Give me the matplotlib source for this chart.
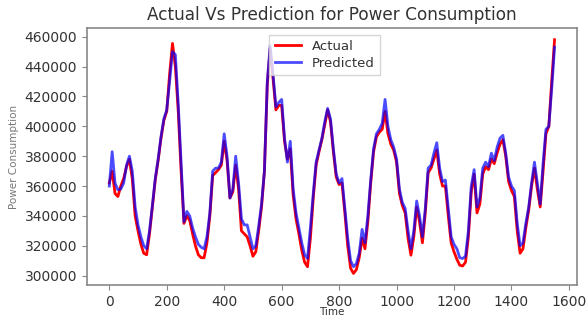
import numpy as np
import matplotlib
matplotlib.use("Agg")
import matplotlib.pyplot as plt

# Sampling step of the series (time units)
step = 10

actual = [
    362000, 370000, 355000, 353000, 360000, 365000, 373000, 378000, 365000, 340000,
    330000, 321000, 315000, 314000, 328000, 346000, 364000, 377000, 392000, 404000,
    410000, 435000, 455500, 440000, 410000, 370000, 335000, 340000, 337000, 328000,
    320000, 314000, 312000, 312000, 322000, 340000, 367000, 369000, 371000, 374000,
    390000, 377000, 352000, 356000, 374000, 358000, 330000, 328000, 326000, 320000,
    313000, 316000, 330000, 346000, 370000, 428000, 452000, 432000, 411000, 414000,
    414000, 390000, 378000, 385000, 354000, 338000, 328000, 317000, 309000, 306000,
    325000, 352000, 374000, 383000, 391000, 401000, 411000, 403000, 383000, 366000,
    361000, 362000, 342000, 320000, 305000, 301500, 304000, 312000, 325000, 318000,
    336000, 362000, 383000, 393000, 396000, 398000, 410000, 395000, 388000, 384000,
    376000, 355000, 347000, 342000, 325000, 313700, 326000, 346000, 336000, 322000,
    342000, 369000, 372000, 378000, 384000, 368000, 360000, 360000, 340000, 322000,
    316000, 311000, 307000, 306500, 309000, 326000, 356000, 368000, 342000, 348000,
    368000, 373000, 371000, 378000, 375000, 382000, 388000, 391000, 380000, 363000,
    357000, 353000, 330000, 315000, 318000, 332000, 344000, 360000, 372000, 358000,
    346000, 370000, 395000, 400000, 430000, 458000,
]

predicted = [
    360000, 383000, 362000, 357500, 358000, 362000, 374000, 380000, 370000, 346000,
    334000, 326000, 320000, 318000, 330000, 347000, 365000, 378000, 393000, 405000,
    411000, 430000, 450000, 448000, 415000, 375000, 336000, 343000, 340000, 332000,
    326000, 321000, 319000, 318000, 326000, 342000, 370000, 372000, 372000, 376000,
    395000, 380000, 352000, 358000, 380000, 362000, 338000, 334000, 334000, 326000,
    318000, 320000, 333000, 348000, 370000, 430000, 454000, 435000, 413000, 416000,
    418000, 392000, 376000, 390000, 358000, 342000, 332000, 322000, 314000, 311500,
    332000, 355000, 376000, 384000, 392000, 403000, 412000, 405000, 385000, 368000,
    362000, 365000, 345000, 325000, 310000, 306000, 308000, 315000, 331000, 322000,
    340000, 364000, 385000, 395000, 398000, 402000, 418000, 400000, 391000, 386000,
    378000, 358000, 349000, 345000, 330000, 318000, 330000, 350000, 340000, 326000,
    345000, 372000, 374000, 382000, 389000, 372000, 363000, 364000, 345000, 326000,
    321000, 318000, 312000, 311500, 313000, 330000, 360000, 371000, 346000, 352000,
    372000, 376000, 373000, 382000, 377000, 386000, 392000, 394000, 382000, 366000,
    360000, 357000, 335000, 320000, 322000, 335000, 346000, 362000, 376000, 362000,
    348000, 375000, 398000, 400000, 425000, 453000,
]

time = np.arange(len(actual)) * step

fig = plt.figure(figsize=(5.88, 3.2), dpi=100)
ax = fig.add_axes([0.148, 0.109, 0.833, 0.8035])

ax.plot(time, actual, color="red", lw=2.0, label="Actual")
ax.plot(time, predicted, color="blue", lw=2.0, alpha=0.7, label="Predicted")

ax.set_xticks([0, 200, 400, 600, 800, 1000, 1200, 1400, 1600])
ax.set_yticks([300000, 320000, 340000, 360000, 380000, 400000, 420000, 440000, 460000])

text_color = "#333333"
for s in ax.spines.values():
    s.set_color("#888888")
    s.set_linewidth(1.2)
ax.tick_params(colors="#888888", labelcolor=text_color, labelsize=10, length=3.5)

ax.set_title("Actual Vs Prediction for Power Consumption", fontsize=12.2,
             color=text_color, pad=6)
ax.set_xlabel("Time", fontsize=7.5, color=text_color, labelpad=-1)
ax.set_ylabel("Power Consumption", fontsize=7.5, color="#777777", labelpad=4)

leg = ax.legend(loc="upper center", bbox_to_anchor=(0.485, 1.0), fontsize=9.5,
                frameon=True, fancybox=False, handlelength=2.0, borderpad=0.4,
                labelspacing=0.3)
for t in leg.get_texts():
    t.set_color(text_color)
leg.get_frame().set_edgecolor("#cccccc")

fig.savefig("out.png", dpi=100)
